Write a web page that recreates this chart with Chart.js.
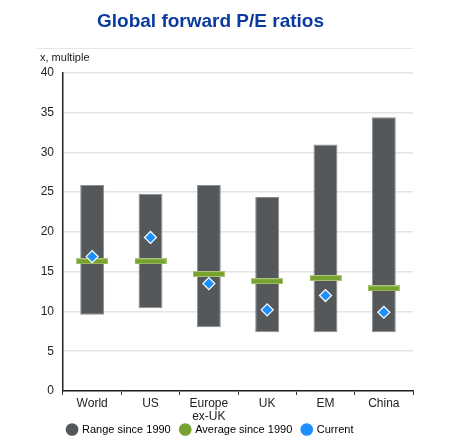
<!DOCTYPE html>
<html>
<head>
<meta charset="utf-8">
<script src="https://cdn.jsdelivr.net/npm/chart.js@4/dist/chart.umd.min.js"></script>
<style>
    html, body { margin: 0; padding: 0; background: #fff; }
    #wrap { width: 453px; height: 445px; position: relative; }
</style>
</head>
<body>
<div id="wrap"><canvas id="pe"></canvas></div>
<script>
const markets = ["World", "US", ["Europe", "ex-UK"], "UK", "EM", "China"];
const rangeLow = [9.6, 10.4, 8.0, 7.4, 7.4, 7.4];
const rangeHigh = [25.9, 24.8, 25.9, 24.4, 31.0, 34.4];
const average = [16.3, 16.3, 14.7, 13.8, 14.2, 12.9];
const current = [16.9, 19.3, 13.5, 10.2, 12.0, 9.9];
const yTicks = [0, 5, 10, 15, 20, 25, 30, 35, 40];

const grey = "#55585b";
const green = "#78a22f";
const blue = "#1e8fff";

// horizontal marker used for the average points
function makeDash() {
    const c = document.createElement("canvas");
    c.width = 32;
    c.height = 6;
    const ctx = c.getContext("2d");
    ctx.fillStyle = "#a9c57a";
    ctx.fillRect(0, 0, 32, 6);
    ctx.fillStyle = green;
    ctx.fillRect(1, 1, 30, 4);
    return c;
}

const extras = {
    id: "extras",
    afterDraw(chart) {
        const ctx = chart.ctx;
        ctx.save();
        ctx.strokeStyle = "#e6e6e6";
        ctx.lineWidth = 1;
        ctx.beginPath();
        ctx.moveTo(37, 48.5);
        ctx.lineTo(413, 48.5);
        ctx.stroke();
        ctx.fillStyle = "#222";
        ctx.font = "11px 'Liberation Sans', Arial, sans-serif";
        ctx.textBaseline = "middle";
        ctx.fillText("x, multiple", 40, 58);
        ctx.restore();
    }
};

Chart.defaults.font.family = "'Liberation Sans', Arial, sans-serif";
Chart.defaults.color = "#222";

new Chart(document.getElementById("pe"), {
    data: {
        labels: markets,
        datasets: [
            {
                type: "bar",
                label: "Range since 1990",
                data: rangeLow.map((v, i) => [v, rangeHigh[i]]),
                backgroundColor: grey,
                borderColor: "#8c8f92",
                borderWidth: 1,
                borderSkipped: false,
                barPercentage: 0.41,
                categoryPercentage: 1,
                grouped: false,
                order: 3
            },
            {
                type: "line",
                label: "Average since 1990",
                data: average,
                showLine: false,
                pointStyle: makeDash(),
                backgroundColor: green,
                borderColor: green,
                borderWidth: 0,
                order: 2
            },
            {
                type: "line",
                label: "Current",
                data: current,
                showLine: false,
                pointStyle: "rectRot",
                pointRadius: 6,
                pointHoverRadius: 6,
                backgroundColor: blue,
                borderColor: "#ffffff",
                borderWidth: 1.2,
                order: 1
            }
        ]
    },
    options: {
        responsive: true,
        maintainAspectRatio: false,
        animation: false,
        layout: { padding: { left: 8, right: 40, top: 0, bottom: 0 } },
        plugins: {
            title: {
                display: true,
                text: "Global forward P/E ratios",
                color: "#0b3b9c",
                font: { size: 19, weight: "bold" },
                padding: { top: 10, bottom: 40 }
            },
            legend: {
                position: "bottom",
                labels: {
                    usePointStyle: true,
                    pointStyle: "circle",
                    boxWidth: 9,
                    boxHeight: 9,
                    padding: 10,
                    color: "#222",
                    font: { size: 11 },
                    generateLabels(chart) {
                        const cols = [grey, green, blue];
                        return chart.data.datasets.map((ds, i) => ({
                            text: ds.label,
                            fillStyle: cols[i],
                            strokeStyle: cols[i],
                            lineWidth: 0,
                            pointStyle: "circle",
                            datasetIndex: i
                        }));
                    }
                }
            },
            tooltip: { enabled: false }
        },
        scales: {
            x: {
                offset: true,
                afterFit(scale) {
                    // keep the axis short; the second label line sits in the legend's top padding
                    scale.height = 23;
                    scale._computeLabelArea = () => undefined;
                },
                grid: {
                    display: true,
                    drawOnChartArea: false,
                    drawTicks: true,
                    tickLength: 4,
                    color: "#333",
                    offset: true
                },
                border: { display: true, color: "#222", width: 1.5 },
                ticks: { font: { size: 12, lineHeight: 1.1 }, color: "#222", padding: 2, maxRotation: 0 }
            },
            y: {
                min: 0,
                max: 40,
                afterBuildTicks(scale) {
                    scale.ticks = yTicks.map(v => ({ value: v }));
                },
                afterFit(scale) {
                    scale.width = 55;
                },
                grid: { color: "#e4e4e4", lineWidth: 1.5, drawTicks: false },
                border: { display: true, color: "#222", width: 1.5 },
                ticks: { font: { size: 12 }, color: "#222", padding: 9 }
            }
        }
    },
    plugins: [extras]
});
</script>
</body>
</html>
